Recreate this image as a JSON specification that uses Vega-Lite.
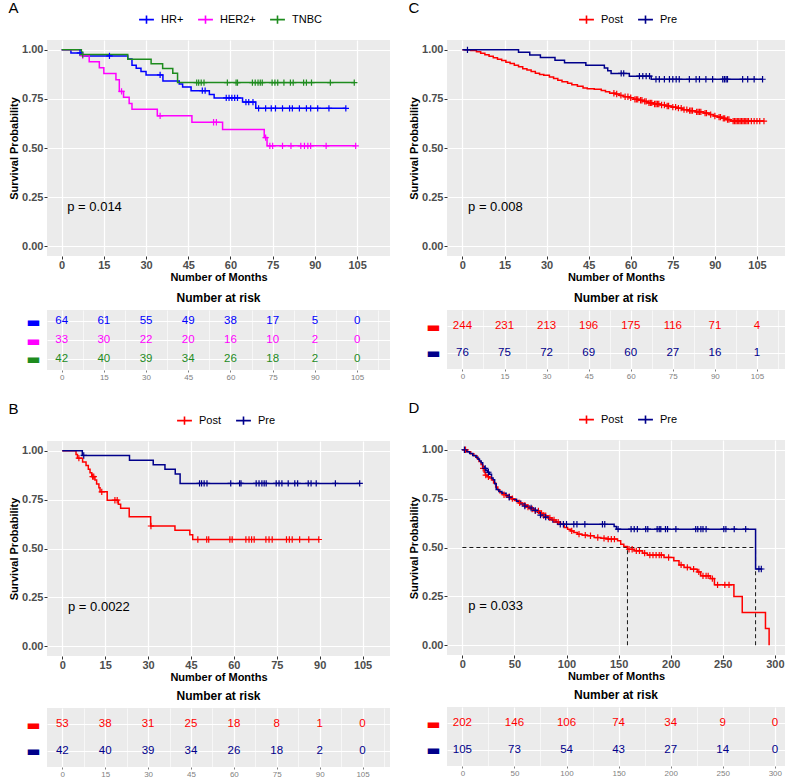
{
  "$schema": "https://vega.github.io/schema/vega-lite/v6.json",
  "padding": {"left": 8, "top": 1, "right": 0, "bottom": 0},
  "background": "white",
  "datasets": {
    "A_surv": [
      {"g":"HR+","t":0,"s":1},{"g":"HR+","t":3.3,"s":0.984},{"g":"HR+","t":7.5,"s":0.969},{"g":"HR+","t":23.5,"s":0.953},{"g":"HR+","t":25,"s":0.922},{"g":"HR+","t":26.5,"s":0.906},{"g":"HR+","t":28.2,"s":0.89},{"g":"HR+","t":30,"s":0.872},{"g":"HR+","t":36,"s":0.841},{"g":"HR+","t":41.8,"s":0.826},{"g":"HR+","t":43,"s":0.811},{"g":"HR+","t":46,"s":0.792},{"g":"HR+","t":52.5,"s":0.773},{"g":"HR+","t":54.2,"s":0.755},{"g":"HR+","t":64.3,"s":0.734},{"g":"HR+","t":69,"s":0.702},{"g":"HR+","t":101,"s":0.702},
      {"g":"HER2+","t":0,"s":1},{"g":"HER2+","t":7,"s":0.97},{"g":"HER2+","t":9.8,"s":0.939},{"g":"HER2+","t":13.4,"s":0.909},{"g":"HER2+","t":15,"s":0.879},{"g":"HER2+","t":19.3,"s":0.848},{"g":"HER2+","t":20.5,"s":0.788},{"g":"HER2+","t":22,"s":0.758},{"g":"HER2+","t":24,"s":0.727},{"g":"HER2+","t":25,"s":0.697},{"g":"HER2+","t":34,"s":0.664},{"g":"HER2+","t":46.3,"s":0.631},{"g":"HER2+","t":57.2,"s":0.594},{"g":"HER2+","t":72,"s":0.553},{"g":"HER2+","t":73,"s":0.511},{"g":"HER2+","t":104.5,"s":0.511},
      {"g":"TNBC","t":0,"s":1},{"g":"TNBC","t":7,"s":0.976},{"g":"TNBC","t":23.5,"s":0.952},{"g":"TNBC","t":31.8,"s":0.929},{"g":"TNBC","t":35.9,"s":0.905},{"g":"TNBC","t":39.5,"s":0.881},{"g":"TNBC","t":41.2,"s":0.833},{"g":"TNBC","t":104,"s":0.833}
    ],
    "A_cens": [
      {"g":"HR+","t":6.5,"s":0.984},{"g":"HR+","t":17,"s":0.969},{"g":"HR+","t":35,"s":0.872},{"g":"HR+","t":50,"s":0.792},{"g":"HR+","t":51,"s":0.792},{"g":"HR+","t":58.5,"s":0.755},{"g":"HR+","t":59.5,"s":0.755},{"g":"HR+","t":60.5,"s":0.755},{"g":"HR+","t":61.5,"s":0.755},{"g":"HR+","t":62.5,"s":0.755},{"g":"HR+","t":65.5,"s":0.734},{"g":"HR+","t":66.5,"s":0.734},{"g":"HR+","t":68,"s":0.734},{"g":"HR+","t":70,"s":0.702},{"g":"HR+","t":72.5,"s":0.702},{"g":"HR+","t":74.5,"s":0.702},{"g":"HR+","t":76,"s":0.702},{"g":"HR+","t":78.5,"s":0.702},{"g":"HR+","t":81,"s":0.702},{"g":"HR+","t":82,"s":0.702},{"g":"HR+","t":84.5,"s":0.702},{"g":"HR+","t":87,"s":0.702},{"g":"HR+","t":88.5,"s":0.702},{"g":"HR+","t":91,"s":0.702},{"g":"HR+","t":95,"s":0.702},{"g":"HR+","t":101,"s":0.702},
      {"g":"HER2+","t":7.5,"s":0.97},{"g":"HER2+","t":21.3,"s":0.788},{"g":"HER2+","t":35,"s":0.664},{"g":"HER2+","t":54,"s":0.631},{"g":"HER2+","t":55,"s":0.631},{"g":"HER2+","t":72.5,"s":0.553},{"g":"HER2+","t":74,"s":0.511},{"g":"HER2+","t":75,"s":0.511},{"g":"HER2+","t":78.5,"s":0.511},{"g":"HER2+","t":81.5,"s":0.511},{"g":"HER2+","t":85,"s":0.511},{"g":"HER2+","t":86.3,"s":0.511},{"g":"HER2+","t":87.5,"s":0.511},{"g":"HER2+","t":88.5,"s":0.511},{"g":"HER2+","t":94,"s":0.511},{"g":"HER2+","t":104.5,"s":0.511},
      {"g":"TNBC","t":7.5,"s":0.976},{"g":"TNBC","t":48,"s":0.833},{"g":"TNBC","t":48.7,"s":0.833},{"g":"TNBC","t":49.6,"s":0.833},{"g":"TNBC","t":50.6,"s":0.833},{"g":"TNBC","t":58.9,"s":0.833},{"g":"TNBC","t":62,"s":0.833},{"g":"TNBC","t":62.5,"s":0.833},{"g":"TNBC","t":67.8,"s":0.833},{"g":"TNBC","t":68.8,"s":0.833},{"g":"TNBC","t":69.8,"s":0.833},{"g":"TNBC","t":70.6,"s":0.833},{"g":"TNBC","t":71.3,"s":0.833},{"g":"TNBC","t":74.8,"s":0.833},{"g":"TNBC","t":75.8,"s":0.833},{"g":"TNBC","t":76.8,"s":0.833},{"g":"TNBC","t":79,"s":0.833},{"g":"TNBC","t":81.3,"s":0.833},{"g":"TNBC","t":82.3,"s":0.833},{"g":"TNBC","t":86,"s":0.833},{"g":"TNBC","t":87,"s":0.833},{"g":"TNBC","t":88.8,"s":0.833},{"g":"TNBC","t":95.5,"s":0.833},{"g":"TNBC","t":104,"s":0.833}
    ],
    "A_risk": [
      {"g":"HR+","r":1,"t":0,"n":64},{"g":"HR+","r":1,"t":15,"n":61},{"g":"HR+","r":1,"t":30,"n":55},{"g":"HR+","r":1,"t":45,"n":49},{"g":"HR+","r":1,"t":60,"n":38},{"g":"HR+","r":1,"t":75,"n":17},{"g":"HR+","r":1,"t":90,"n":5},{"g":"HR+","r":1,"t":105,"n":0},
      {"g":"HER2+","r":2,"t":0,"n":33},{"g":"HER2+","r":2,"t":15,"n":30},{"g":"HER2+","r":2,"t":30,"n":22},{"g":"HER2+","r":2,"t":45,"n":20},{"g":"HER2+","r":2,"t":60,"n":16},{"g":"HER2+","r":2,"t":75,"n":10},{"g":"HER2+","r":2,"t":90,"n":2},{"g":"HER2+","r":2,"t":105,"n":0},
      {"g":"TNBC","r":3,"t":0,"n":42},{"g":"TNBC","r":3,"t":15,"n":40},{"g":"TNBC","r":3,"t":30,"n":39},{"g":"TNBC","r":3,"t":45,"n":34},{"g":"TNBC","r":3,"t":60,"n":26},{"g":"TNBC","r":3,"t":75,"n":18},{"g":"TNBC","r":3,"t":90,"n":2},{"g":"TNBC","r":3,"t":105,"n":0}
    ],
    "B_surv": [
      {"g":"Post","t":0,"s":1},{"g":"Post","t":4.8,"s":0.981},{"g":"Post","t":5.3,"s":0.962},{"g":"Post","t":7.1,"s":0.943},{"g":"Post","t":8.3,"s":0.925},{"g":"Post","t":9.1,"s":0.906},{"g":"Post","t":9.7,"s":0.887},{"g":"Post","t":10.3,"s":0.868},{"g":"Post","t":11.4,"s":0.85},{"g":"Post","t":12,"s":0.83},{"g":"Post","t":12.8,"s":0.811},{"g":"Post","t":13.2,"s":0.79},{"g":"Post","t":15.7,"s":0.747},{"g":"Post","t":19.6,"s":0.727},{"g":"Post","t":20.4,"s":0.706},{"g":"Post","t":23.4,"s":0.662},{"g":"Post","t":30.9,"s":0.615},{"g":"Post","t":39.4,"s":0.593},{"g":"Post","t":44.6,"s":0.57},{"g":"Post","t":45.6,"s":0.546},{"g":"Post","t":89.7,"s":0.546},
      {"g":"Pre","t":0,"s":1},{"g":"Pre","t":7,"s":0.976},{"g":"Pre","t":23.5,"s":0.952},{"g":"Pre","t":31.8,"s":0.929},{"g":"Pre","t":35.9,"s":0.905},{"g":"Pre","t":39.5,"s":0.881},{"g":"Pre","t":41.2,"s":0.833},{"g":"Pre","t":104,"s":0.833}
    ],
    "B_cens": [
      {"g":"Post","t":5.8,"s":0.962},{"g":"Post","t":10.6,"s":0.868},{"g":"Post","t":11,"s":0.868},{"g":"Post","t":13.8,"s":0.79},{"g":"Post","t":18.4,"s":0.747},{"g":"Post","t":19.2,"s":0.747},{"g":"Post","t":31,"s":0.615},{"g":"Post","t":47.4,"s":0.546},{"g":"Post","t":50.5,"s":0.546},{"g":"Post","t":51.2,"s":0.546},{"g":"Post","t":58.6,"s":0.546},{"g":"Post","t":59.4,"s":0.546},{"g":"Post","t":64.2,"s":0.546},{"g":"Post","t":65.3,"s":0.546},{"g":"Post","t":66.2,"s":0.546},{"g":"Post","t":67.1,"s":0.546},{"g":"Post","t":71.2,"s":0.546},{"g":"Post","t":72.3,"s":0.546},{"g":"Post","t":73.4,"s":0.546},{"g":"Post","t":78.4,"s":0.546},{"g":"Post","t":79.4,"s":0.546},{"g":"Post","t":80.4,"s":0.546},{"g":"Post","t":83,"s":0.546},{"g":"Post","t":86.2,"s":0.546},{"g":"Post","t":89.7,"s":0.546},
      {"g":"Pre","t":7.5,"s":0.976},{"g":"Pre","t":48,"s":0.833},{"g":"Pre","t":48.7,"s":0.833},{"g":"Pre","t":49.6,"s":0.833},{"g":"Pre","t":50.6,"s":0.833},{"g":"Pre","t":58.9,"s":0.833},{"g":"Pre","t":62,"s":0.833},{"g":"Pre","t":62.5,"s":0.833},{"g":"Pre","t":67.8,"s":0.833},{"g":"Pre","t":68.8,"s":0.833},{"g":"Pre","t":69.8,"s":0.833},{"g":"Pre","t":70.6,"s":0.833},{"g":"Pre","t":71.3,"s":0.833},{"g":"Pre","t":74.8,"s":0.833},{"g":"Pre","t":75.8,"s":0.833},{"g":"Pre","t":76.8,"s":0.833},{"g":"Pre","t":79,"s":0.833},{"g":"Pre","t":81.3,"s":0.833},{"g":"Pre","t":82.3,"s":0.833},{"g":"Pre","t":86,"s":0.833},{"g":"Pre","t":87,"s":0.833},{"g":"Pre","t":88.8,"s":0.833},{"g":"Pre","t":95.5,"s":0.833},{"g":"Pre","t":104,"s":0.833}
    ],
    "B_risk": [
      {"g":"Post","r":1,"t":0,"n":53},{"g":"Post","r":1,"t":15,"n":38},{"g":"Post","r":1,"t":30,"n":31},{"g":"Post","r":1,"t":45,"n":25},{"g":"Post","r":1,"t":60,"n":18},{"g":"Post","r":1,"t":75,"n":8},{"g":"Post","r":1,"t":90,"n":1},{"g":"Post","r":1,"t":105,"n":0},
      {"g":"Pre","r":2,"t":0,"n":42},{"g":"Pre","r":2,"t":15,"n":40},{"g":"Pre","r":2,"t":30,"n":39},{"g":"Pre","r":2,"t":45,"n":34},{"g":"Pre","r":2,"t":60,"n":26},{"g":"Pre","r":2,"t":75,"n":18},{"g":"Pre","r":2,"t":90,"n":2},{"g":"Pre","r":2,"t":105,"n":0}
    ],
    "C_surv": [
      {"g":"Post","t":0,"s":1},{"g":"Post","t":3,"s":0.996},{"g":"Post","t":5,"s":0.99},{"g":"Post","t":6.5,"s":0.983},{"g":"Post","t":8,"s":0.975},{"g":"Post","t":9.5,"s":0.967},{"g":"Post","t":11,"s":0.959},{"g":"Post","t":12.5,"s":0.952},{"g":"Post","t":14,"s":0.945},{"g":"Post","t":15.5,"s":0.937},{"g":"Post","t":17,"s":0.93},{"g":"Post","t":18.5,"s":0.922},{"g":"Post","t":20,"s":0.914},{"g":"Post","t":21.5,"s":0.904},{"g":"Post","t":23,"s":0.897},{"g":"Post","t":24.5,"s":0.889},{"g":"Post","t":26,"s":0.881},{"g":"Post","t":27.5,"s":0.874},{"g":"Post","t":29,"s":0.87},{"g":"Post","t":31,"s":0.862},{"g":"Post","t":32.5,"s":0.854},{"g":"Post","t":34,"s":0.845},{"g":"Post","t":35.5,"s":0.837},{"g":"Post","t":37.5,"s":0.83},{"g":"Post","t":39,"s":0.822},{"g":"Post","t":41,"s":0.814},{"g":"Post","t":43,"s":0.806},{"g":"Post","t":44.5,"s":0.802},{"g":"Post","t":47,"s":0.799},{"g":"Post","t":49.5,"s":0.793},{"g":"Post","t":51,"s":0.787},{"g":"Post","t":52.5,"s":0.779},{"g":"Post","t":54.5,"s":0.775},{"g":"Post","t":56,"s":0.768},{"g":"Post","t":57.5,"s":0.761},{"g":"Post","t":59.5,"s":0.756},{"g":"Post","t":61,"s":0.748},{"g":"Post","t":63,"s":0.743},{"g":"Post","t":64.5,"s":0.737},{"g":"Post","t":66,"s":0.73},{"g":"Post","t":68,"s":0.724},{"g":"Post","t":70.5,"s":0.719},{"g":"Post","t":72.5,"s":0.714},{"g":"Post","t":74.5,"s":0.708},{"g":"Post","t":76.5,"s":0.703},{"g":"Post","t":78.5,"s":0.695},{"g":"Post","t":80.5,"s":0.69},{"g":"Post","t":83,"s":0.684},{"g":"Post","t":86,"s":0.678},{"g":"Post","t":88,"s":0.67},{"g":"Post","t":89.5,"s":0.663},{"g":"Post","t":91,"s":0.657},{"g":"Post","t":92.5,"s":0.651},{"g":"Post","t":94,"s":0.645},{"g":"Post","t":95.5,"s":0.637},{"g":"Post","t":107.5,"s":0.637},
      {"g":"Pre","t":0,"s":1},{"g":"Pre","t":20,"s":0.987},{"g":"Pre","t":24,"s":0.974},{"g":"Pre","t":27.8,"s":0.961},{"g":"Pre","t":33,"s":0.947},{"g":"Pre","t":36.4,"s":0.934},{"g":"Pre","t":44,"s":0.921},{"g":"Pre","t":50.6,"s":0.907},{"g":"Pre","t":51.8,"s":0.893},{"g":"Pre","t":53,"s":0.88},{"g":"Pre","t":59.5,"s":0.866},{"g":"Pre","t":67.3,"s":0.85},{"g":"Pre","t":107,"s":0.85}
    ],
    "C_cens": [
      {"g":"Post","t":54,"s":0.779},{"g":"Post","t":55,"s":0.775},{"g":"Post","t":56.5,"s":0.768},{"g":"Post","t":58,"s":0.761},{"g":"Post","t":59,"s":0.761},{"g":"Post","t":60,"s":0.756},{"g":"Post","t":61.5,"s":0.748},{"g":"Post","t":62,"s":0.748},{"g":"Post","t":62.5,"s":0.748},{"g":"Post","t":63.5,"s":0.743},{"g":"Post","t":64,"s":0.743},{"g":"Post","t":65,"s":0.737},{"g":"Post","t":65.5,"s":0.737},{"g":"Post","t":66.5,"s":0.73},{"g":"Post","t":67,"s":0.73},{"g":"Post","t":67.5,"s":0.73},{"g":"Post","t":68.5,"s":0.724},{"g":"Post","t":69,"s":0.724},{"g":"Post","t":69.5,"s":0.724},{"g":"Post","t":70,"s":0.724},{"g":"Post","t":71,"s":0.719},{"g":"Post","t":72,"s":0.719},{"g":"Post","t":73,"s":0.714},{"g":"Post","t":73.5,"s":0.714},{"g":"Post","t":75,"s":0.708},{"g":"Post","t":76,"s":0.708},{"g":"Post","t":77,"s":0.703},{"g":"Post","t":78,"s":0.703},{"g":"Post","t":79,"s":0.695},{"g":"Post","t":80,"s":0.695},{"g":"Post","t":81,"s":0.69},{"g":"Post","t":81.5,"s":0.69},{"g":"Post","t":82,"s":0.69},{"g":"Post","t":83.5,"s":0.684},{"g":"Post","t":84,"s":0.684},{"g":"Post","t":84.5,"s":0.684},{"g":"Post","t":85,"s":0.684},{"g":"Post","t":86.5,"s":0.678},{"g":"Post","t":87,"s":0.678},{"g":"Post","t":88.5,"s":0.67},{"g":"Post","t":90,"s":0.663},{"g":"Post","t":91.5,"s":0.657},{"g":"Post","t":92,"s":0.657},{"g":"Post","t":93,"s":0.651},{"g":"Post","t":93.5,"s":0.651},{"g":"Post","t":94.5,"s":0.645},{"g":"Post","t":95,"s":0.645},{"g":"Post","t":96.5,"s":0.637},{"g":"Post","t":97,"s":0.637},{"g":"Post","t":97.5,"s":0.637},{"g":"Post","t":98,"s":0.637},{"g":"Post","t":98.5,"s":0.637},{"g":"Post","t":99,"s":0.637},{"g":"Post","t":99.5,"s":0.637},{"g":"Post","t":100,"s":0.637},{"g":"Post","t":100.5,"s":0.637},{"g":"Post","t":101,"s":0.637},{"g":"Post","t":101.5,"s":0.637},{"g":"Post","t":102,"s":0.637},{"g":"Post","t":103,"s":0.637},{"g":"Post","t":104,"s":0.637},{"g":"Post","t":105,"s":0.637},{"g":"Post","t":106,"s":0.637},{"g":"Post","t":107.5,"s":0.637},
      {"g":"Pre","t":1.8,"s":1},{"g":"Pre","t":56.6,"s":0.88},{"g":"Pre","t":57.5,"s":0.88},{"g":"Pre","t":63.1,"s":0.866},{"g":"Pre","t":64.3,"s":0.866},{"g":"Pre","t":65.5,"s":0.866},{"g":"Pre","t":66.7,"s":0.866},{"g":"Pre","t":69,"s":0.85},{"g":"Pre","t":70.2,"s":0.85},{"g":"Pre","t":72,"s":0.85},{"g":"Pre","t":73.8,"s":0.85},{"g":"Pre","t":75,"s":0.85},{"g":"Pre","t":76.2,"s":0.85},{"g":"Pre","t":77.3,"s":0.85},{"g":"Pre","t":80.9,"s":0.85},{"g":"Pre","t":83.3,"s":0.85},{"g":"Pre","t":84.5,"s":0.85},{"g":"Pre","t":86.8,"s":0.85},{"g":"Pre","t":89.2,"s":0.85},{"g":"Pre","t":92.8,"s":0.85},{"g":"Pre","t":93.4,"s":0.85},{"g":"Pre","t":94,"s":0.85},{"g":"Pre","t":94.5,"s":0.85},{"g":"Pre","t":99.9,"s":0.85},{"g":"Pre","t":101.7,"s":0.85},{"g":"Pre","t":104,"s":0.85},{"g":"Pre","t":107,"s":0.85}
    ],
    "C_risk": [
      {"g":"Post","r":1,"t":0,"n":244},{"g":"Post","r":1,"t":15,"n":231},{"g":"Post","r":1,"t":30,"n":213},{"g":"Post","r":1,"t":45,"n":196},{"g":"Post","r":1,"t":60,"n":175},{"g":"Post","r":1,"t":75,"n":116},{"g":"Post","r":1,"t":90,"n":71},{"g":"Post","r":1,"t":105,"n":4},
      {"g":"Pre","r":2,"t":0,"n":76},{"g":"Pre","r":2,"t":15,"n":75},{"g":"Pre","r":2,"t":30,"n":72},{"g":"Pre","r":2,"t":45,"n":69},{"g":"Pre","r":2,"t":60,"n":60},{"g":"Pre","r":2,"t":75,"n":27},{"g":"Pre","r":2,"t":90,"n":16},{"g":"Pre","r":2,"t":105,"n":1}
    ],
    "D_surv": [
      {"g":"Post","t":0,"s":1},{"g":"Post","t":5,"s":0.99},{"g":"Post","t":8,"s":0.98},{"g":"Post","t":11,"s":0.97},{"g":"Post","t":14,"s":0.955},{"g":"Post","t":16,"s":0.94},{"g":"Post","t":18,"s":0.925},{"g":"Post","t":19.5,"s":0.905},{"g":"Post","t":21,"s":0.885},{"g":"Post","t":22,"s":0.87},{"g":"Post","t":24,"s":0.862},{"g":"Post","t":26,"s":0.855},{"g":"Post","t":28,"s":0.845},{"g":"Post","t":30,"s":0.83},{"g":"Post","t":32,"s":0.81},{"g":"Post","t":34,"s":0.795},{"g":"Post","t":36,"s":0.78},{"g":"Post","t":39,"s":0.77},{"g":"Post","t":42,"s":0.76},{"g":"Post","t":46,"s":0.75},{"g":"Post","t":50,"s":0.74},{"g":"Post","t":54,"s":0.728},{"g":"Post","t":58,"s":0.717},{"g":"Post","t":62,"s":0.707},{"g":"Post","t":66,"s":0.697},{"g":"Post","t":70,"s":0.687},{"g":"Post","t":74,"s":0.675},{"g":"Post","t":78,"s":0.663},{"g":"Post","t":82,"s":0.652},{"g":"Post","t":86,"s":0.641},{"g":"Post","t":90,"s":0.63},{"g":"Post","t":94,"s":0.62},{"g":"Post","t":97.8,"s":0.602},{"g":"Post","t":101,"s":0.594},{"g":"Post","t":104,"s":0.585},{"g":"Post","t":107,"s":0.577},{"g":"Post","t":110.5,"s":0.568},{"g":"Post","t":115,"s":0.563},{"g":"Post","t":120,"s":0.56},{"g":"Post","t":126.5,"s":0.551},{"g":"Post","t":133,"s":0.547},{"g":"Post","t":139,"s":0.543},{"g":"Post","t":149,"s":0.534},{"g":"Post","t":152,"s":0.517},{"g":"Post","t":155,"s":0.505},{"g":"Post","t":158.5,"s":0.491},{"g":"Post","t":165,"s":0.483},{"g":"Post","t":173,"s":0.471},{"g":"Post","t":177.6,"s":0.461},{"g":"Post","t":193.6,"s":0.449},{"g":"Post","t":203,"s":0.432},{"g":"Post","t":208,"s":0.411},{"g":"Post","t":212.8,"s":0.398},{"g":"Post","t":219,"s":0.389},{"g":"Post","t":225.5,"s":0.375},{"g":"Post","t":228.8,"s":0.355},{"g":"Post","t":238,"s":0.341},{"g":"Post","t":242,"s":0.309},{"g":"Post","t":260.7,"s":0.249},{"g":"Post","t":268.7,"s":0.167},{"g":"Post","t":291,"s":0.085},{"g":"Post","t":294.5,"s":0},
      {"g":"Pre","t":0,"s":1},{"g":"Pre","t":4,"s":0.99},{"g":"Pre","t":7,"s":0.981},{"g":"Pre","t":10,"s":0.971},{"g":"Pre","t":13,"s":0.962},{"g":"Pre","t":15,"s":0.952},{"g":"Pre","t":16.5,"s":0.943},{"g":"Pre","t":18,"s":0.933},{"g":"Pre","t":19.5,"s":0.914},{"g":"Pre","t":21,"s":0.905},{"g":"Pre","t":22.5,"s":0.895},{"g":"Pre","t":24,"s":0.885},{"g":"Pre","t":26,"s":0.875},{"g":"Pre","t":28,"s":0.856},{"g":"Pre","t":29.5,"s":0.846},{"g":"Pre","t":31,"s":0.826},{"g":"Pre","t":32.5,"s":0.797},{"g":"Pre","t":35,"s":0.787},{"g":"Pre","t":38,"s":0.777},{"g":"Pre","t":42,"s":0.767},{"g":"Pre","t":45,"s":0.757},{"g":"Pre","t":48,"s":0.747},{"g":"Pre","t":52,"s":0.737},{"g":"Pre","t":56,"s":0.722},{"g":"Pre","t":60,"s":0.712},{"g":"Pre","t":64,"s":0.702},{"g":"Pre","t":68,"s":0.69},{"g":"Pre","t":72,"s":0.68},{"g":"Pre","t":75,"s":0.666},{"g":"Pre","t":79,"s":0.655},{"g":"Pre","t":83,"s":0.643},{"g":"Pre","t":87,"s":0.631},{"g":"Pre","t":91.4,"s":0.619},{"g":"Pre","t":145.7,"s":0.607},{"g":"Pre","t":148,"s":0.594},{"g":"Pre","t":281.5,"s":0.39},{"g":"Pre","t":288,"s":0.39}
    ],
    "D_cens": [
      {"g":"Post","t":3,"s":1},{"g":"Post","t":20,"s":0.905},{"g":"Post","t":22.5,"s":0.87},{"g":"Post","t":25,"s":0.862},{"g":"Post","t":40,"s":0.77},{"g":"Post","t":45,"s":0.76},{"g":"Post","t":48,"s":0.75},{"g":"Post","t":55,"s":0.728},{"g":"Post","t":60,"s":0.717},{"g":"Post","t":63,"s":0.707},{"g":"Post","t":67,"s":0.697},{"g":"Post","t":70,"s":0.687},{"g":"Post","t":73,"s":0.687},{"g":"Post","t":76,"s":0.675},{"g":"Post","t":78,"s":0.663},{"g":"Post","t":80,"s":0.663},{"g":"Post","t":84,"s":0.652},{"g":"Post","t":88,"s":0.641},{"g":"Post","t":92,"s":0.63},{"g":"Post","t":105,"s":0.585},{"g":"Post","t":112,"s":0.568},{"g":"Post","t":118,"s":0.563},{"g":"Post","t":123,"s":0.56},{"g":"Post","t":130,"s":0.551},{"g":"Post","t":136,"s":0.547},{"g":"Post","t":140,"s":0.543},{"g":"Post","t":143,"s":0.543},{"g":"Post","t":146,"s":0.543},{"g":"Post","t":160,"s":0.491},{"g":"Post","t":163,"s":0.491},{"g":"Post","t":167,"s":0.483},{"g":"Post","t":170,"s":0.483},{"g":"Post","t":175,"s":0.471},{"g":"Post","t":180,"s":0.461},{"g":"Post","t":183,"s":0.461},{"g":"Post","t":186,"s":0.461},{"g":"Post","t":189,"s":0.461},{"g":"Post","t":191,"s":0.461},{"g":"Post","t":198,"s":0.449},{"g":"Post","t":210,"s":0.411},{"g":"Post","t":216,"s":0.398},{"g":"Post","t":222,"s":0.389},{"g":"Post","t":227,"s":0.375},{"g":"Post","t":231,"s":0.355},{"g":"Post","t":234,"s":0.355},{"g":"Post","t":236,"s":0.355},{"g":"Post","t":240,"s":0.341},{"g":"Post","t":245,"s":0.309},{"g":"Post","t":252,"s":0.309},{"g":"Post","t":256,"s":0.309},
      {"g":"Pre","t":2,"s":1},{"g":"Pre","t":22,"s":0.905},{"g":"Pre","t":25,"s":0.885},{"g":"Pre","t":45,"s":0.757},{"g":"Pre","t":60,"s":0.712},{"g":"Pre","t":66,"s":0.702},{"g":"Pre","t":70,"s":0.69},{"g":"Pre","t":75,"s":0.666},{"g":"Pre","t":80,"s":0.655},{"g":"Pre","t":94,"s":0.619},{"g":"Pre","t":97,"s":0.619},{"g":"Pre","t":100,"s":0.619},{"g":"Pre","t":107,"s":0.619},{"g":"Pre","t":110,"s":0.619},{"g":"Pre","t":117.6,"s":0.619},{"g":"Pre","t":134.5,"s":0.619},{"g":"Pre","t":136.7,"s":0.619},{"g":"Pre","t":149.5,"s":0.594},{"g":"Pre","t":162,"s":0.594},{"g":"Pre","t":165,"s":0.594},{"g":"Pre","t":168,"s":0.594},{"g":"Pre","t":176,"s":0.594},{"g":"Pre","t":178,"s":0.594},{"g":"Pre","t":187,"s":0.594},{"g":"Pre","t":189,"s":0.594},{"g":"Pre","t":190.5,"s":0.594},{"g":"Pre","t":195,"s":0.594},{"g":"Pre","t":197,"s":0.594},{"g":"Pre","t":205,"s":0.594},{"g":"Pre","t":224,"s":0.594},{"g":"Pre","t":226,"s":0.594},{"g":"Pre","t":229,"s":0.594},{"g":"Pre","t":231,"s":0.594},{"g":"Pre","t":234,"s":0.594},{"g":"Pre","t":251,"s":0.594},{"g":"Pre","t":253,"s":0.594},{"g":"Pre","t":261,"s":0.594},{"g":"Pre","t":272,"s":0.594},{"g":"Pre","t":284.7,"s":0.39},{"g":"Pre","t":287,"s":0.39}
    ],
    "D_median": [
      {"t":0,"t2":281.5,"s":0.5,"s2":0.5},{"t":158.5,"t2":158.5,"s":0,"s2":0.5},{"t":281.5,"t2":281.5,"s":0,"s2":0.5}
    ],
    "D_risk": [
      {"g":"Post","r":1,"t":0,"n":202},{"g":"Post","r":1,"t":50,"n":146},{"g":"Post","r":1,"t":100,"n":106},{"g":"Post","r":1,"t":150,"n":74},{"g":"Post","r":1,"t":200,"n":34},{"g":"Post","r":1,"t":250,"n":9},{"g":"Post","r":1,"t":300,"n":0},
      {"g":"Pre","r":2,"t":0,"n":105},{"g":"Pre","r":2,"t":50,"n":73},{"g":"Pre","r":2,"t":100,"n":54},{"g":"Pre","r":2,"t":150,"n":43},{"g":"Pre","r":2,"t":200,"n":27},{"g":"Pre","r":2,"t":250,"n":14},{"g":"Pre","r":2,"t":300,"n":0}
    ]
  },
  "hconcat": [
    {
      "vconcat": [
        {
          "vconcat": [
            {
              "width": 343, "height": 216,
              "title": {"text": "A", "anchor": "start", "frame": "bounds", "fontSize": 15, "fontWeight": "normal", "offset": -5},
              "layer": [
                {"data": {"name": "A_surv"}, "mark": {"type": "line", "interpolate": "step-after", "strokeWidth": 1.5},
                 "encoding": {
                   "x": {"field": "t", "type": "quantitative", "scale": {"domain": [-5.2, 116.7], "nice": false, "zero": false},
                         "axis": {"title": "Number of Months", "values": [0,7.5,15,22.5,30,37.5,45,52.5,60,67.5,75,82.5,90,97.5,105,112.5], "labelExpr": "datum.value % 15 == 0 ? datum.label : ''", "gridWidth": {"condition": {"test": "datum.value % 15 != 0", "value": 0.6}, "value": 1.2}, "tickOpacity": {"condition": {"test": "datum.value % 15 != 0", "value": 0}, "value": 1}, "labelPadding": 0, "titlePadding": 1}},
                   "y": {"field": "s", "type": "quantitative", "scale": {"domain": [-0.05, 1.05], "nice": false, "zero": false},
                         "axis": {"title": "Survival Probability", "values": [0,0.125,0.25,0.375,0.5,0.625,0.75,0.875,1], "format": ".2f", "labelExpr": "datum.value % 0.25 == 0 ? datum.label : ''", "gridWidth": {"condition": {"test": "datum.value % 0.25 != 0", "value": 0.6}, "value": 1.2}, "tickOpacity": {"condition": {"test": "datum.value % 0.25 != 0", "value": 0}, "value": 1}, "labelPadding": 1, "titlePadding": 2}},
                   "color": {"field": "g", "type": "nominal", "scale": {"domain": ["HR+","HER2+","TNBC"], "range": ["#0000FF","#FF00FF","#1E8C1E"]},
                             "legend": {"title": null, "orient": "none", "legendX": 91, "legendY": -29, "direction": "horizontal", "symbolType": "M-1,0H1M0,-0.55V0.55", "symbolSize": 220, "symbolStrokeWidth": 1.6, "symbolFillColor": "transparent", "labelFontSize": 11, "labelColor": "#000000", "labelOffset": 6, "columnPadding": 10}}
                 }},
                {"data": {"name": "A_cens"}, "mark": {"type": "point", "shape": "M-1,0H1M0,-1V1", "filled": false, "size": 40, "strokeWidth": 1.2, "opacity": 1},
                 "encoding": {"x": {"field": "t", "type": "quantitative"}, "y": {"field": "s", "type": "quantitative"}, "color": {"field": "g", "type": "nominal"}}},
                {"data": {"values": [{"t": 2, "s": 0.2, "label": "p = 0.014"}]}, "mark": {"type": "text", "align": "left", "baseline": "middle", "fontSize": 13, "color": "#000000"},
                 "encoding": {"x": {"field": "t", "type": "quantitative"}, "y": {"field": "s", "type": "quantitative"}, "text": {"field": "label"}}}
              ]
            },
            {
              "width": 343, "height": 60,
              "title": {"text": "Number at risk", "anchor": "middle", "fontSize": 12, "fontWeight": "bold", "offset": 5},
              "data": {"name": "A_risk"},
              "mark": {"type": "text", "fontSize": 11.5, "baseline": "middle", "align": "center"},
              "encoding": {
                "x": {"field": "t", "type": "quantitative", "scale": {"domain": [-5.2, 116.7], "nice": false, "zero": false},
                      "axis": {"title": null, "values": [0,7.5,15,22.5,30,37.5,45,52.5,60,67.5,75,82.5,90,97.5,105,112.5], "labelExpr": "datum.value % 15 == 0 ? datum.label : ''", "gridWidth": {"condition": {"test": "datum.value % 15 != 0", "value": 0.6}, "value": 1.2}, "tickOpacity": {"condition": {"test": "datum.value % 15 != 0", "value": 0}, "value": 1}, "labelFontWeight": "normal", "labelFontSize": 8, "labelColor": "#7F7F7F", "tickColor": "#7F7F7F", "tickSize": 2, "labelPadding": 1}},
                "y": {"field": "r", "type": "quantitative", "scale": {"domain": [0.4, 3.6], "nice": false, "zero": false, "reverse": true},
                      "axis": {"title": null, "values": [1,2,3], "labelExpr": "'▬'", "labelFont": "DejaVu Sans", "labelFontSize": 15, "labelFontWeight": "normal", "labelColor": {"condition": [{"test": "datum.value == 1", "value": "#0000FF"}, {"test": "datum.value == 2", "value": "#FF00FF"}], "value": "#1E8C1E"}, "ticks": false, "gridWidth": 1, "labelPadding": 7}},
                "text": {"field": "n", "type": "quantitative"},
                "color": {"field": "g", "type": "nominal", "scale": {"domain": ["HR+","HER2+","TNBC"], "range": ["#0000FF","#FF00FF","#1E8C1E"]}, "legend": null}
              }
            }
          ],
          "spacing": 10,
          "resolve": {"scale": {"color": "independent"}, "legend": {"color": "independent"}}
        },
        {
          "vconcat": [
            {
              "width": 343, "height": 215,
              "title": {"text": "B", "anchor": "start", "frame": "bounds", "fontSize": 15, "fontWeight": "normal", "offset": -5},
              "layer": [
                {"data": {"name": "B_surv"}, "mark": {"type": "line", "interpolate": "step-after", "strokeWidth": 1.5},
                 "encoding": {
                   "x": {"field": "t", "type": "quantitative", "scale": {"domain": [-5.35, 114.6], "nice": false, "zero": false},
                         "axis": {"title": "Number of Months", "values": [0,7.5,15,22.5,30,37.5,45,52.5,60,67.5,75,82.5,90,97.5,105,112.5], "labelExpr": "datum.value % 15 == 0 ? datum.label : ''", "gridWidth": {"condition": {"test": "datum.value % 15 != 0", "value": 0.6}, "value": 1.2}, "tickOpacity": {"condition": {"test": "datum.value % 15 != 0", "value": 0}, "value": 1}, "labelPadding": 0, "titlePadding": 1}},
                   "y": {"field": "s", "type": "quantitative", "scale": {"domain": [-0.05, 1.05], "nice": false, "zero": false},
                         "axis": {"title": "Survival Probability", "values": [0,0.125,0.25,0.375,0.5,0.625,0.75,0.875,1], "format": ".2f", "labelExpr": "datum.value % 0.25 == 0 ? datum.label : ''", "gridWidth": {"condition": {"test": "datum.value % 0.25 != 0", "value": 0.6}, "value": 1.2}, "tickOpacity": {"condition": {"test": "datum.value % 0.25 != 0", "value": 0}, "value": 1}, "labelPadding": 1, "titlePadding": 2}},
                   "color": {"field": "g", "type": "nominal", "scale": {"domain": ["Post","Pre"], "range": ["#FF0000","#00008B"]},
                             "legend": {"title": null, "orient": "none", "legendX": 129, "legendY": -29, "direction": "horizontal", "symbolType": "M-1,0H1M0,-0.55V0.55", "symbolSize": 220, "symbolStrokeWidth": 1.6, "symbolFillColor": "transparent", "labelFontSize": 11, "labelColor": "#000000", "labelOffset": 6, "columnPadding": 10}}
                 }},
                {"data": {"name": "B_cens"}, "mark": {"type": "point", "shape": "M-1,0H1M0,-1V1", "filled": false, "size": 40, "strokeWidth": 1.2, "opacity": 1},
                 "encoding": {"x": {"field": "t", "type": "quantitative"}, "y": {"field": "s", "type": "quantitative"}, "color": {"field": "g", "type": "nominal"}}},
                {"data": {"values": [{"t": 2, "s": 0.2, "label": "p = 0.0022"}]}, "mark": {"type": "text", "align": "left", "baseline": "middle", "fontSize": 13, "color": "#000000"},
                 "encoding": {"x": {"field": "t", "type": "quantitative"}, "y": {"field": "s", "type": "quantitative"}, "text": {"field": "label"}}}
              ]
            },
            {
              "width": 343, "height": 59,
              "title": {"text": "Number at risk", "anchor": "middle", "fontSize": 12, "fontWeight": "bold", "offset": 5},
              "data": {"name": "B_risk"},
              "mark": {"type": "text", "fontSize": 11.5, "baseline": "middle", "align": "center"},
              "encoding": {
                "x": {"field": "t", "type": "quantitative", "scale": {"domain": [-5.35, 114.6], "nice": false, "zero": false},
                      "axis": {"title": null, "values": [0,7.5,15,22.5,30,37.5,45,52.5,60,67.5,75,82.5,90,97.5,105,112.5], "labelExpr": "datum.value % 15 == 0 ? datum.label : ''", "gridWidth": {"condition": {"test": "datum.value % 15 != 0", "value": 0.6}, "value": 1.2}, "tickOpacity": {"condition": {"test": "datum.value % 15 != 0", "value": 0}, "value": 1}, "labelFontWeight": "normal", "labelFontSize": 8, "labelColor": "#7F7F7F", "tickColor": "#7F7F7F", "tickSize": 2, "labelPadding": 1}},
                "y": {"field": "r", "type": "quantitative", "scale": {"domain": [0.4, 2.6], "nice": false, "zero": false, "reverse": true},
                      "axis": {"title": null, "values": [1,2], "labelExpr": "'▬'", "labelFont": "DejaVu Sans", "labelFontSize": 15, "labelFontWeight": "normal", "labelColor": {"condition": {"test": "datum.value == 1", "value": "#FF0000"}, "value": "#00008B"}, "ticks": false, "gridWidth": 1, "labelPadding": 7}},
                "text": {"field": "n", "type": "quantitative"},
                "color": {"field": "g", "type": "nominal", "scale": {"domain": ["Post","Pre"], "range": ["#FF0000","#00008B"]}, "legend": null}
              }
            }
          ],
          "spacing": 8,
          "resolve": {"scale": {"color": "independent"}, "legend": {"color": "independent"}}
        }
      ],
      "spacing": 21,
      "resolve": {"scale": {"color": "independent"}, "legend": {"color": "independent"}}
    },
    {
      "vconcat": [
        {
          "vconcat": [
            {
              "width": 338, "height": 216,
              "title": {"text": "C", "anchor": "start", "frame": "bounds", "fontSize": 15, "fontWeight": "normal", "offset": -5},
              "layer": [
                {"data": {"name": "C_surv"}, "mark": {"type": "line", "interpolate": "step-after", "strokeWidth": 1.5},
                 "encoding": {
                   "x": {"field": "t", "type": "quantitative", "scale": {"domain": [-5.5, 115], "nice": false, "zero": false},
                         "axis": {"title": "Number of Months", "values": [0,7.5,15,22.5,30,37.5,45,52.5,60,67.5,75,82.5,90,97.5,105,112.5], "labelExpr": "datum.value % 15 == 0 ? datum.label : ''", "gridWidth": {"condition": {"test": "datum.value % 15 != 0", "value": 0.6}, "value": 1.2}, "tickOpacity": {"condition": {"test": "datum.value % 15 != 0", "value": 0}, "value": 1}, "labelPadding": 0, "titlePadding": 1}},
                   "y": {"field": "s", "type": "quantitative", "scale": {"domain": [-0.05, 1.05], "nice": false, "zero": false},
                         "axis": {"title": "Survival Probability", "values": [0,0.125,0.25,0.375,0.5,0.625,0.75,0.875,1], "format": ".2f", "labelExpr": "datum.value % 0.25 == 0 ? datum.label : ''", "gridWidth": {"condition": {"test": "datum.value % 0.25 != 0", "value": 0.6}, "value": 1.2}, "tickOpacity": {"condition": {"test": "datum.value % 0.25 != 0", "value": 0}, "value": 1}, "labelPadding": 1, "titlePadding": 2}},
                   "color": {"field": "g", "type": "nominal", "scale": {"domain": ["Post","Pre"], "range": ["#FF0000","#00008B"]},
                             "legend": {"title": null, "orient": "none", "legendX": 131, "legendY": -29, "direction": "horizontal", "symbolType": "M-1,0H1M0,-0.55V0.55", "symbolSize": 220, "symbolStrokeWidth": 1.6, "symbolFillColor": "transparent", "labelFontSize": 11, "labelColor": "#000000", "labelOffset": 6, "columnPadding": 10}}
                 }},
                {"data": {"name": "C_cens"}, "mark": {"type": "point", "shape": "M-1,0H1M0,-1V1", "filled": false, "size": 40, "strokeWidth": 1.2, "opacity": 1},
                 "encoding": {"x": {"field": "t", "type": "quantitative"}, "y": {"field": "s", "type": "quantitative"}, "color": {"field": "g", "type": "nominal"}}},
                {"data": {"values": [{"t": 2, "s": 0.2, "label": "p = 0.008"}]}, "mark": {"type": "text", "align": "left", "baseline": "middle", "fontSize": 13, "color": "#000000"},
                 "encoding": {"x": {"field": "t", "type": "quantitative"}, "y": {"field": "s", "type": "quantitative"}, "text": {"field": "label"}}}
              ]
            },
            {
              "width": 338, "height": 59,
              "title": {"text": "Number at risk", "anchor": "middle", "fontSize": 12, "fontWeight": "bold", "offset": 5},
              "data": {"name": "C_risk"},
              "mark": {"type": "text", "fontSize": 11.5, "baseline": "middle", "align": "center"},
              "encoding": {
                "x": {"field": "t", "type": "quantitative", "scale": {"domain": [-5.5, 115], "nice": false, "zero": false},
                      "axis": {"title": null, "values": [0,7.5,15,22.5,30,37.5,45,52.5,60,67.5,75,82.5,90,97.5,105,112.5], "labelExpr": "datum.value % 15 == 0 ? datum.label : ''", "gridWidth": {"condition": {"test": "datum.value % 15 != 0", "value": 0.6}, "value": 1.2}, "tickOpacity": {"condition": {"test": "datum.value % 15 != 0", "value": 0}, "value": 1}, "labelFontWeight": "normal", "labelFontSize": 8, "labelColor": "#7F7F7F", "tickColor": "#7F7F7F", "tickSize": 2, "labelPadding": 1}},
                "y": {"field": "r", "type": "quantitative", "scale": {"domain": [0.4, 2.6], "nice": false, "zero": false, "reverse": true},
                      "axis": {"title": null, "values": [1,2], "labelExpr": "'▬'", "labelFont": "DejaVu Sans", "labelFontSize": 15, "labelFontWeight": "normal", "labelColor": {"condition": {"test": "datum.value == 1", "value": "#FF0000"}, "value": "#00008B"}, "ticks": false, "gridWidth": 1, "labelPadding": 7}},
                "text": {"field": "n", "type": "quantitative"},
                "color": {"field": "g", "type": "nominal", "scale": {"domain": ["Post","Pre"], "range": ["#FF0000","#00008B"]}, "legend": null}
              }
            }
          ],
          "spacing": 10,
          "resolve": {"scale": {"color": "independent"}, "legend": {"color": "independent"}}
        },
        {
          "vconcat": [
            {
              "width": 338, "height": 215,
              "title": {"text": "D", "anchor": "start", "frame": "bounds", "fontSize": 15, "fontWeight": "normal", "offset": -5},
              "layer": [
                {"data": {"name": "D_median"}, "mark": {"type": "rule", "strokeDash": [4, 3], "strokeWidth": 0.9, "color": "#000000"},
                 "encoding": {
                   "x": {"field": "t", "type": "quantitative", "scale": {"domain": [-14.75, 309.75], "nice": false, "zero": false},
                         "axis": {"title": "Number of Months", "values": [0,25,50,75,100,125,150,175,200,225,250,275,300], "labelExpr": "datum.value % 50 == 0 ? datum.label : ''", "gridWidth": {"condition": {"test": "datum.value % 50 != 0", "value": 0.6}, "value": 1.2}, "tickOpacity": {"condition": {"test": "datum.value % 50 != 0", "value": 0}, "value": 1}, "labelPadding": 0, "titlePadding": 1}},
                   "x2": {"field": "t2"},
                   "y": {"field": "s", "type": "quantitative", "scale": {"domain": [-0.05, 1.05], "nice": false, "zero": false},
                         "axis": {"title": "Survival Probability", "values": [0,0.125,0.25,0.375,0.5,0.625,0.75,0.875,1], "format": ".2f", "labelExpr": "datum.value % 0.25 == 0 ? datum.label : ''", "gridWidth": {"condition": {"test": "datum.value % 0.25 != 0", "value": 0.6}, "value": 1.2}, "tickOpacity": {"condition": {"test": "datum.value % 0.25 != 0", "value": 0}, "value": 1}, "labelPadding": 1, "titlePadding": 2}},
                   "y2": {"field": "s2"}
                 }},
                {"data": {"name": "D_surv"}, "mark": {"type": "line", "interpolate": "step-after", "strokeWidth": 1.5},
                 "encoding": {
                   "x": {"field": "t", "type": "quantitative"},
                   "y": {"field": "s", "type": "quantitative"},
                   "color": {"field": "g", "type": "nominal", "scale": {"domain": ["Post","Pre"], "range": ["#FF0000","#00008B"]},
                             "legend": {"title": null, "orient": "none", "legendX": 131, "legendY": -29, "direction": "horizontal", "symbolType": "M-1,0H1M0,-0.55V0.55", "symbolSize": 220, "symbolStrokeWidth": 1.6, "symbolFillColor": "transparent", "labelFontSize": 11, "labelColor": "#000000", "labelOffset": 6, "columnPadding": 10}}
                 }},
                {"data": {"name": "D_cens"}, "mark": {"type": "point", "shape": "M-1,0H1M0,-1V1", "filled": false, "size": 40, "strokeWidth": 1.2, "opacity": 1},
                 "encoding": {"x": {"field": "t", "type": "quantitative"}, "y": {"field": "s", "type": "quantitative"}, "color": {"field": "g", "type": "nominal"}}},
                {"data": {"values": [{"t": 5.75, "s": 0.2, "label": "p = 0.033"}]}, "mark": {"type": "text", "align": "left", "baseline": "middle", "fontSize": 13, "color": "#000000"},
                 "encoding": {"x": {"field": "t", "type": "quantitative"}, "y": {"field": "s", "type": "quantitative"}, "text": {"field": "label"}}}
              ]
            },
            {
              "width": 338, "height": 59,
              "title": {"text": "Number at risk", "anchor": "middle", "fontSize": 12, "fontWeight": "bold", "offset": 5},
              "data": {"name": "D_risk"},
              "mark": {"type": "text", "fontSize": 11.5, "baseline": "middle", "align": "center"},
              "encoding": {
                "x": {"field": "t", "type": "quantitative", "scale": {"domain": [-14.75, 309.75], "nice": false, "zero": false},
                      "axis": {"title": null, "values": [0,25,50,75,100,125,150,175,200,225,250,275,300], "labelExpr": "datum.value % 50 == 0 ? datum.label : ''", "gridWidth": {"condition": {"test": "datum.value % 50 != 0", "value": 0.6}, "value": 1.2}, "tickOpacity": {"condition": {"test": "datum.value % 50 != 0", "value": 0}, "value": 1}, "labelFontWeight": "normal", "labelFontSize": 8, "labelColor": "#7F7F7F", "tickColor": "#7F7F7F", "tickSize": 2, "labelPadding": 1}},
                "y": {"field": "r", "type": "quantitative", "scale": {"domain": [0.4, 2.6], "nice": false, "zero": false, "reverse": true},
                      "axis": {"title": null, "values": [1,2], "labelExpr": "'▬'", "labelFont": "DejaVu Sans", "labelFontSize": 15, "labelFontWeight": "normal", "labelColor": {"condition": {"test": "datum.value == 1", "value": "#FF0000"}, "value": "#00008B"}, "ticks": false, "gridWidth": 1, "labelPadding": 7}},
                "text": {"field": "n", "type": "quantitative"},
                "color": {"field": "g", "type": "nominal", "scale": {"domain": ["Post","Pre"], "range": ["#FF0000","#00008B"]}, "legend": null}
              }
            }
          ],
          "spacing": 8,
          "resolve": {"scale": {"color": "independent"}, "legend": {"color": "independent"}}
        }
      ],
      "spacing": 21,
      "resolve": {"scale": {"color": "independent"}, "legend": {"color": "independent"}}
    }
  ],
  "spacing": 18,
  "resolve": {"scale": {"color": "independent"}, "legend": {"color": "independent"}},
  "config": {
    "font": "Liberation Sans",
    "view": {"fill": "#EBEBEB", "stroke": null},
    "axis": {"domain": false, "gridColor": "#FFFFFF", "tickColor": "#333333", "tickSize": 3, "tickWidth": 1, "labelColor": "#4D4D4D", "labelFont": "Liberation Sans", "labelFontWeight": "bold", "labelFontSize": 11, "titleFont": "Liberation Sans", "titleFontWeight": "bold", "titleFontSize": 11, "titleColor": "#000000", "labelFlush": false, "labelOverlap": false},
    "legend": {"labelFont": "Liberation Sans"},
    "title": {"font": "Liberation Sans", "color": "#000000"},
    "text": {"font": "Liberation Sans"}
  }
}
